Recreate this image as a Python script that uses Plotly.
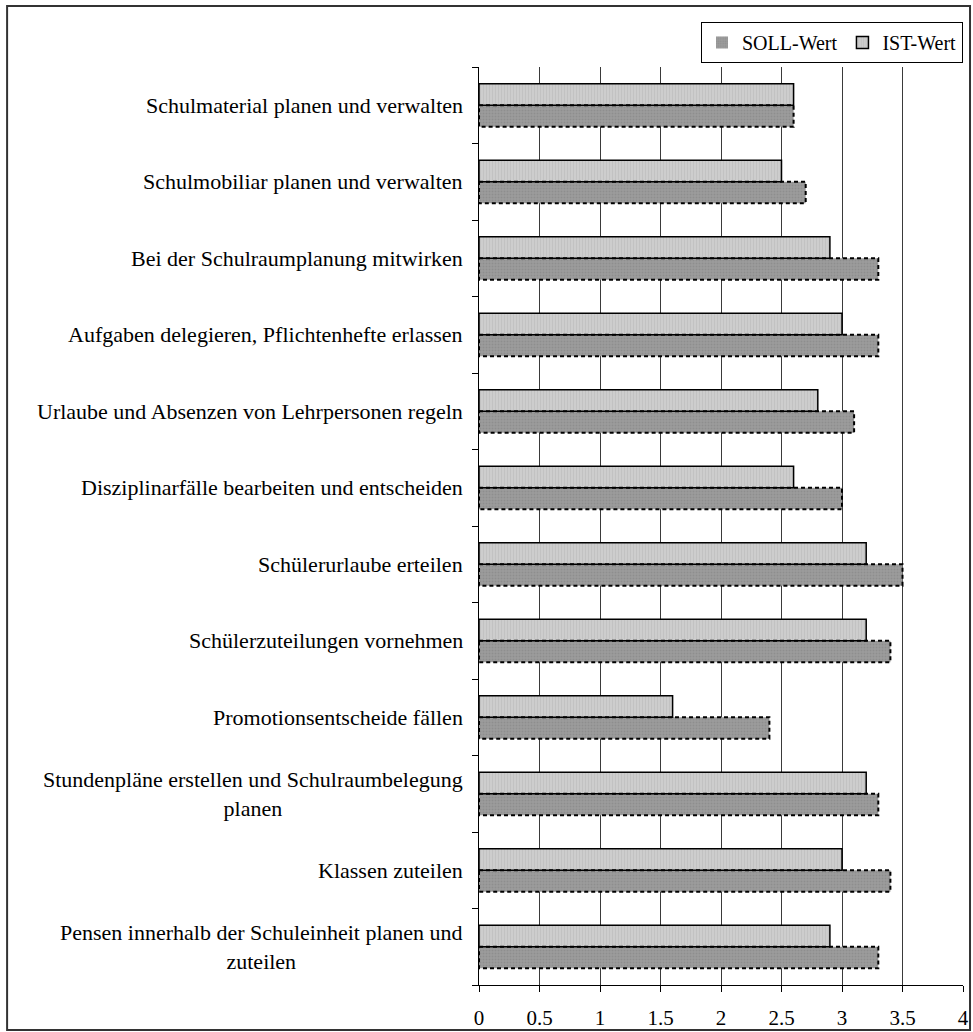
import plotly.graph_objects as go

# Tasks (top to bottom) with target (SOLL) and actual (IST) ratings
categories = [
    "Schulmaterial planen und verwalten",
    "Schulmobiliar planen und verwalten",
    "Bei der Schulraumplanung mitwirken",
    "Aufgaben delegieren, Pflichtenhefte erlassen",
    "Urlaube und Absenzen von Lehrpersonen regeln",
    "Disziplinarfälle bearbeiten und entscheiden",
    "Schülerurlaube erteilen",
    "Schülerzuteilungen vornehmen",
    "Promotionsentscheide fällen",
    "Stundenpläne erstellen und Schulraumbelegung<br>planen",
    "Klassen zuteilen",
    "Pensen innerhalb der Schuleinheit planen und<br>zuteilen",
]
soll_values = [2.6, 2.7, 3.3, 3.3, 3.1, 3.0, 3.5, 3.4, 2.4, 3.3, 3.4, 3.3]
ist_values = [2.6, 2.5, 2.9, 3.0, 2.8, 2.6, 3.2, 3.2, 1.6, 3.2, 3.0, 2.9]
x_ticks = [0, 0.5, 1, 1.5, 2, 2.5, 3, 3.5, 4]

FONT = "Liberation Serif"
BAR_W = 0.28
positions = list(range(len(categories)))

fig = go.Figure()

fig.add_trace(go.Bar(
    name="SOLL-Wert", orientation="h",
    x=soll_values, y=positions, offset=0, width=BAR_W,
    marker=dict(
        color="#999999",
        line=dict(width=0),
        pattern=dict(shape=".", fgcolor="#7f7f7f", bgcolor="#9c9c9c",
                     size=3, solidity=0.3),
    ),
))
fig.add_trace(go.Bar(
    name="IST-Wert", orientation="h",
    x=ist_values, y=positions, offset=-BAR_W, width=BAR_W,
    marker=dict(
        color="#c8c8c8",
        line=dict(color="black", width=1.5),
        pattern=dict(shape="|", fgcolor="#b4b4b4", bgcolor="#cdcdcd",
                     size=3, solidity=0.3),
    ),
))

# dotted outline around each SOLL bar
for pos, val in zip(positions, soll_values):
    fig.add_shape(type="rect", xref="x", yref="y",
                  x0=0, x1=val, y0=pos, y1=pos + BAR_W,
                  line=dict(color="black", width=2, dash="4px,3px"),
                  fillcolor="rgba(0,0,0,0)", layer="above")

# category labels, right aligned next to the axis, lines centred
for pos, label in zip(positions, categories):
    fig.add_annotation(xref="paper", yref="y", x=0, y=pos,
                       xanchor="right", yanchor="middle", align="center",
                       xshift=-14, text=label, showarrow=False,
                       font=dict(family=FONT, size=22, color="black"))

# frame around the whole chart
fig.add_shape(type="rect", xref="paper", yref="paper",
              x0=-0.975, x1=1.0145, y0=-0.049, y1=1.0664,
              line=dict(color="#333333", width=2), layer="below")

fig.update_layout(
    width=973, height=1032,
    margin=dict(l=479, r=10, t=67, b=47, autoexpand=False),
    paper_bgcolor="white", plot_bgcolor="white",
    barmode="overlay",
    font=dict(family=FONT, size=20, color="black"),
    showlegend=True,
    legend=dict(orientation="h", xref="container", yref="container",
                x=0.9897, y=0.9787, xanchor="right", yanchor="top",
                bordercolor="black", borderwidth=1, bgcolor="white",
                font=dict(family=FONT, size=20, color="black"),
                itemwidth=30, tracegroupgap=0),
    xaxis=dict(
        range=[0, 4], tickvals=x_ticks, ticktext=[f"{v:g}" for v in x_ticks],
        showgrid=True, gridcolor="#3a3a3a", gridwidth=1,
        showline=True, linecolor="black", linewidth=1,
        ticks="outside", ticklen=6, tickcolor="black",
        ticklabelstandoff=8, zeroline=False, automargin=False,
        tickfont=dict(family=FONT, size=21, color="black"),
    ),
    yaxis=dict(
        range=[len(categories) - 0.5, -0.5],
        tickvals=[p - 0.5 for p in positions] + [len(categories) - 0.5],
        ticktext=[""] * (len(categories) + 1),
        showgrid=False, zeroline=False, automargin=False,
        showline=True, linecolor="black", linewidth=1,
        ticks="outside", ticklen=6, tickcolor="black",
    ),
)

fig.write_html("out.html")
